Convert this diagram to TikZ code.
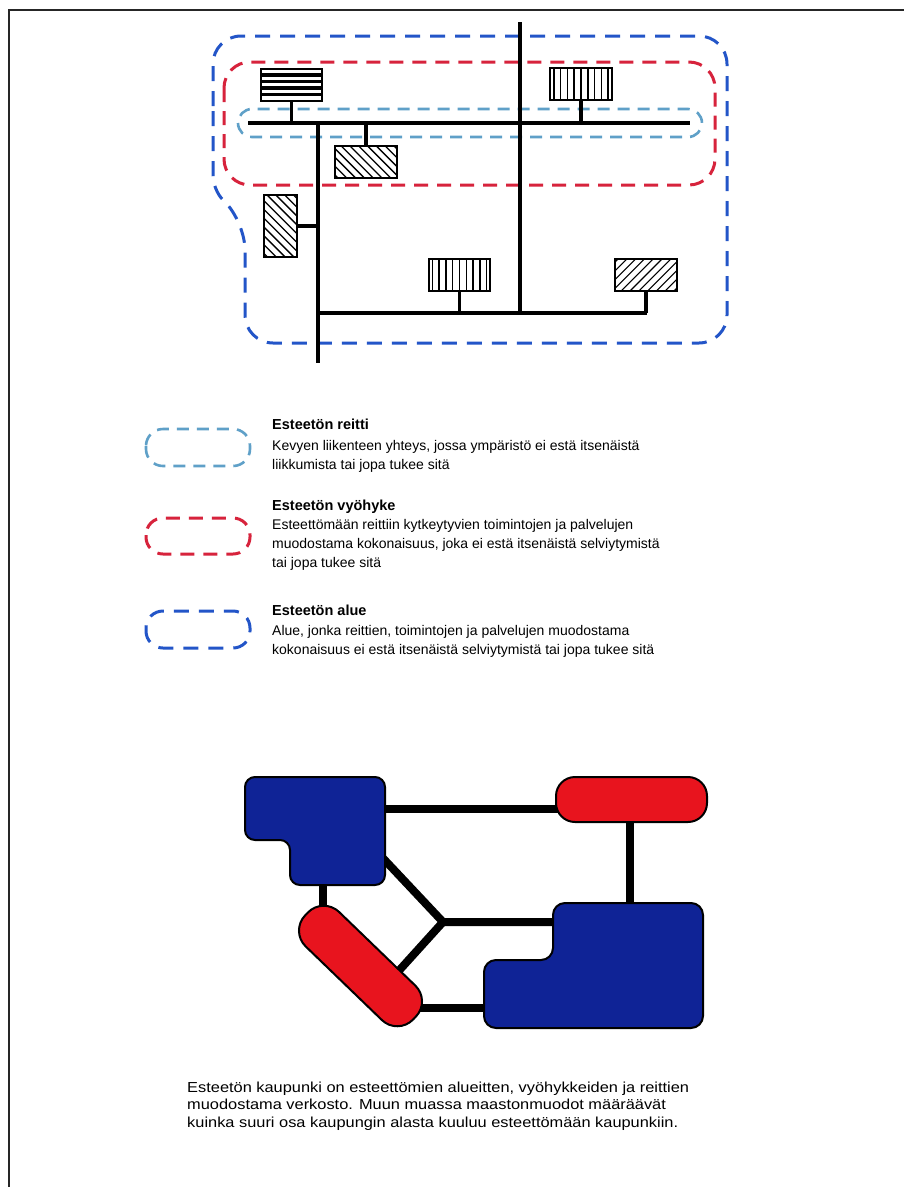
\documentclass[tikz,border=0pt]{standalone}
\usepackage{fontspec}
\setmainfont{Liberation Sans}
\usetikzlibrary{calc}
\definecolor{routecol}{RGB}{95,160,200}
\definecolor{zonecol}{RGB}{215,35,60}
\definecolor{areacol}{RGB}{35,85,200}
\definecolor{bluefill}{RGB}{15,35,150}
\definecolor{redfill}{RGB}{232,20,30}
\tikzset{
  road/.style={line width=4pt, black},
  stem/.style={line width=3.5pt, black},
  box/.style={draw=black, line width=1.6pt, fill=white, inner sep=0pt, outer sep=0pt},
  hatch/.style={line width=1.3pt, black},
  routedash/.style={draw=routecol, line width=2.6pt, dash pattern=on 12pt off 8pt},
  zonedash/.style={draw=zonecol, line width=3pt, dash pattern=on 14pt off 9pt},
  areadash/.style={draw=areacol, line width=3pt, dash pattern=on 15pt off 10pt},
  link/.style={line width=8pt, black},
  blueblock/.style={fill=bluefill, draw=black, line width=2pt},
  redpill/.style={fill=redfill, draw=black, line width=2pt, rounded corners=19pt, inner sep=0pt},
  legtitle/.style={anchor=base west, inner sep=0pt, font=\fontsize{14.5}{19}\selectfont\bfseries},
  legtext/.style={anchor=base west, inner sep=0pt, align=left, font=\fontsize{14}{19}\selectfont},
  captext/.style={anchor=base west, inner sep=0pt, align=left, xscale=1.13, font=\fontsize{14.5}{17.5}\selectfont},
}
\newcommand{\vstripes}[2]{%
  \begin{scope}
    \clip (#1.south west) rectangle (#1.north east);
    \foreach \k in {-6,...,6} \draw[hatch, line width=#2] ($(#1.center)+(\k*6.8,-40)$) -- ++(0,80);
  \end{scope}
  \draw[line width=1.6pt] (#1.south west) rectangle (#1.north east);}
\newcommand{\dstripes}[3]{%
  \begin{scope}
    \clip (#1.south west) rectangle (#1.north east);
    \foreach \k in {-14,...,14} \draw[hatch, line width=#3] ($(#1.center)+(\k*8.8-50,-50*#2)$) -- ++(100,100*#2);
  \end{scope}
  \draw[line width=1.6pt] (#1.south west) rectangle (#1.north east);}
\begin{document}
\begin{tikzpicture}[x=1pt,y=-1pt]
\useasboundingbox (0,0) rectangle (904,1187);
\fill[white] (0,0) rectangle (904,1187);
% partial frame
\draw[line width=1.6pt, black!85] (9,1187) -- (9,10) -- (904,10);

% ===== top diagram: dashed outlines =====
\draw[areadash, rounded corners=28pt] (213,120) -- (213,36) -- (727,36) -- (727,343) -- (245,343) -- (245,222) [rounded corners=14pt] -- (213,190) -- cycle;
\draw[zonedash, rounded corners=26pt] (224,62) rectangle (715,185);
\draw[routedash, rounded corners=14pt] (238,109) rectangle (702,137);

% ===== roads =====
\coordinate (rA) at (248,123);
\coordinate (rB) at (690,123);
\coordinate (mT) at (520,22);
\coordinate (mB) at (520,313);
\coordinate (lT) at (318,123);
\coordinate (lB) at (318,363);
\coordinate (bL) at (318,313);
\coordinate (bR) at (647,313);
\draw[road] (rA) -- (rB);
\draw[road] (mT) -- (mB);
\draw[road] (lT) -- (lB);
\draw[road] (bL) -- (bR);

% ===== buildings =====
\node[box, minimum width=61pt, minimum height=32pt] (b1) at (291.5,85) {};
\foreach \d in {6,12.5,19,25.5}
  \draw[line width=3.6pt] ($(b1.north west)+(0,\d)$) -- ($(b1.north east)+(0,\d)$);
\node[box, minimum width=62pt, minimum height=32pt] (b2) at (366,162) {};
\dstripes{b2}{1}{1.3pt}
\node[box, minimum width=62pt, minimum height=32pt] (b3) at (581,84) {};
\vstripes{b3}{1.6pt}
\node[box, minimum width=33pt, minimum height=62pt] (b4) at (280.5,226) {};
\dstripes{b4}{1}{1.3pt}
\node[box, minimum width=61pt, minimum height=32pt] (b5) at (459.5,275) {};
\vstripes{b5}{1.4pt}
\node[box, minimum width=62pt, minimum height=32pt] (b6) at (646,275) {};
\dstripes{b6}{-1}{1.1pt}

\draw[stem] (b1.south) -- (b1.south |- rA);
\draw[stem] (b2.north) -- (b2.north |- rA);
\draw[stem] (b3.south) -- (b3.south |- rA);
\draw[stem] (b4.east) -- (b4.east -| lT);
\draw[stem] (b5.south) -- (b5.south |- bL);
\draw[stem] (b6.south) -- (b6.south |- bL);

% ===== legend =====
\draw[routedash, rounded corners=17pt] (146,429) rectangle (250,466);
\draw[zonedash, rounded corners=17pt] (146,518) rectangle (250,554);
\draw[areadash, rounded corners=17pt] (146,611) rectangle (250,648);

\node[legtitle] (t1) at (272,429) {Esteetön reitti};
\node[legtext] (d1) at (272,469) {Kevyen liikenteen yhteys, jossa ympäristö ei estä itsenäistä\\liikkumista tai jopa tukee sitä};
\node[legtitle] (t2) at (272,510) {Esteetön vyöhyke};
\node[legtext] (d2) at (272,567) {Esteettömään reittiin kytkeytyvien toimintojen ja palvelujen\\muodostama kokonaisuus, joka ei estä itsenäistä selviytymistä\\tai jopa tukee sitä};
\node[legtitle] (t3) at (272,615) {Esteetön alue};
\node[legtext] (d3) at (272,654) {Alue, jonka reittien, toimintojen ja palvelujen muodostama\\kokonaisuus ei estä itsenäistä selviytymistä tai jopa tukee sitä};

% ===== bottom network =====
\coordinate (a1e) at (385,809);
\coordinate (r1w) at (565,809);
\coordinate (r1s) at (630,815);
\coordinate (a2n) at (630,910);
\coordinate (a1s) at (323,880);
\coordinate (r2n) at (323,935);
\coordinate (a1c) at (380,855);
\coordinate (jn) at (443,922);
\coordinate (a2w) at (560,922);
\coordinate (r2m) at (395,975);
\coordinate (r2e) at (410,1008);
\coordinate (a2l) at (490,1008);
\draw[link] (a1e) -- (r1w);
\draw[link] (r1s) -- (a2n);
\draw[link] (a1s) -- (r2n);
\draw[link] (a1c) -- (jn) -- (a2w);
\draw[link] (jn) -- (r2m);
\draw[link] (r2e) -- (a2l);

\draw[blueblock, rounded corners=10pt] (245,800) -- (245,777) -- (385,777) -- (385,885) -- (290,885) -- (290,840) -- (245,840) -- cycle;
\draw[blueblock, rounded corners=12pt] (620,903) -- (703,903) -- (703,1028) -- (484,1028) -- (484,960) -- (553,960) -- (553,903) -- cycle;
\node[redpill, minimum width=151pt, minimum height=45pt] (r1) at (631.5,799.5) {};
\node[redpill, rotate=-44, minimum width=150pt, minimum height=48pt, rounded corners=22pt] (r2) at (360.5,966) {};

% ===== caption =====
\node[captext] (cap) at (187,1127) {Esteetön kaupunki on esteettömien alueitten, vyöhykkeiden ja reittien\\muodostama verkosto. Muun muassa maastonmuodot määräävät\\kuinka suuri osa kaupungin alasta kuuluu esteettömään kaupunkiin.};
\end{tikzpicture}
\end{document}
